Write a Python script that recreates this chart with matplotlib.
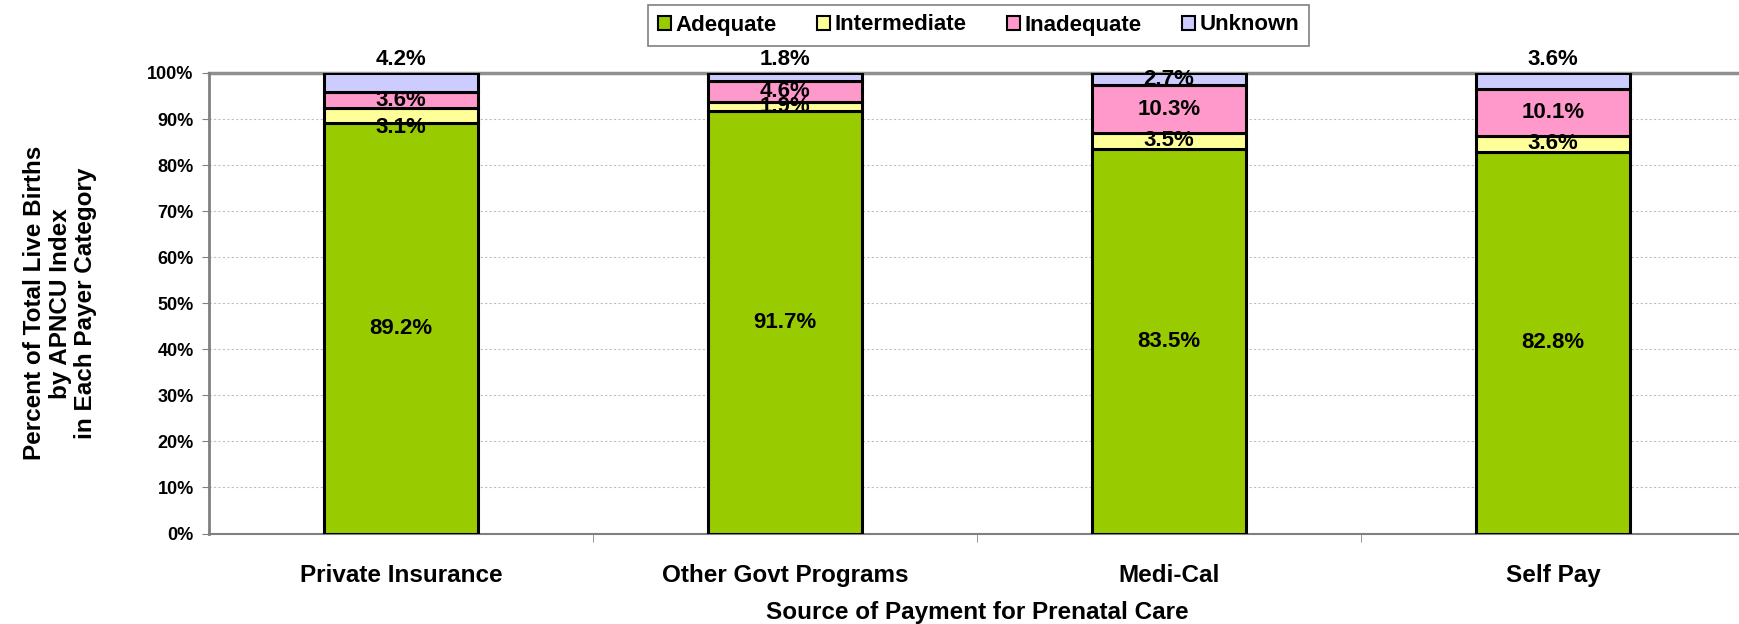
import matplotlib.pyplot as plt
import numpy as np

plt.rcParams['font.family'] = ['Liberation Sans', 'DejaVu Sans']
plt.rcParams['font.weight'] = 'bold'

categories = ["Private Insurance", "Other Govt Programs", "Medi-Cal", "Self Pay"]
levels = ["Adequate", "Intermediate", "Inadequate", "Unknown"]
adequate = [89.2, 91.7, 83.5, 82.8]
intermediate = [3.1, 1.9, 3.5, 3.6]
inadequate = [3.6, 4.6, 10.3, 10.1]
unknown = [4.2, 1.8, 2.7, 3.6]
colors = ["#99CC00", "#FFFF99", "#FF99CC", "#CCCCFF"]

series = [adequate, intermediate, inadequate, unknown]

fig = plt.figure(figsize=(17.39, 6.24), dpi=100)
ax = fig.add_axes([209/1739, 1-533.5/624, (1745-209)/1739, (533.5-73)/624])

x = np.arange(len(categories))
bottom = np.zeros(len(categories))
for name, vals, col in zip(levels, series, colors):
    ax.bar(x, vals, 0.4, bottom=bottom, color=col, edgecolor="black",
           linewidth=2.2, label=name, zorder=3)
    for i, v in enumerate(vals):
        y = bottom[i] + v / 2
        # a few labels were moved off their segment in the original
        if name == "Unknown" and categories[i] != "Medi-Cal":
            y = 103
        if name == "Intermediate" and categories[i] == "Private Insurance":
            y = 88.2
        ax.text(x[i], y, f"{v}%", ha="center", va="center", fontsize=16,
                fontweight="bold", zorder=5, clip_on=False)
    bottom += np.array(vals)

ax.set_xlim(-0.5, 3.5)
ax.set_ylim(0, 100)
ax.set_yticks(np.arange(0, 101, 10))
ax.set_yticklabels([f"{t}%" for t in range(0, 101, 10)], fontsize=13, fontweight="bold")
ax.set_xticks(x)
ax.set_xticklabels(categories, fontsize=17.5, fontweight="bold")
ax.tick_params(axis="x", length=0, pad=22)
ax.set_xticks([0.5, 1.5, 2.5], minor=True)
ax.tick_params(axis="x", which="minor", length=6, color="#808080")
ax.tick_params(axis="y", length=5, color="#808080", pad=6)

for yv in range(10, 100, 10):
    ax.axhline(yv, color="#C0C0C0", linestyle=(0, (2, 2)), linewidth=0.8, zorder=1)
ax.axhline(100, color="#909090", linewidth=2.5, zorder=2, clip_on=False)

for s in ["top", "right"]:
    ax.spines[s].set_visible(False)
ax.spines["left"].set_color("#808080")
ax.spines["left"].set_linewidth(2)
ax.spines["bottom"].set_color("#808080")
ax.spines["bottom"].set_linewidth(1.5)

ax.set_xlabel("Source of Payment for Prenatal Care", fontsize=17.5, fontweight="bold", labelpad=10)
ax.set_ylabel("Percent of Total Live Births\nby APNCU Index\nin Each Payer Category",
              fontsize=17.5, fontweight="bold", labelpad=36, linespacing=1.15)

leg = fig.legend(loc="center", bbox_to_anchor=((648+1309)/2/1739, 1-25/624), ncol=4,
                 fontsize=16, frameon=True, fancybox=False, edgecolor="#606060",
                 handlelength=0.6, handleheight=0.6, handletextpad=0.2,
                 columnspacing=1.8, borderpad=0.45)
leg.get_frame().set_linewidth(1.2)
for h in leg.legend_handles:
    h.set_linewidth(1.5)

fig.savefig("out.png", dpi=100)
